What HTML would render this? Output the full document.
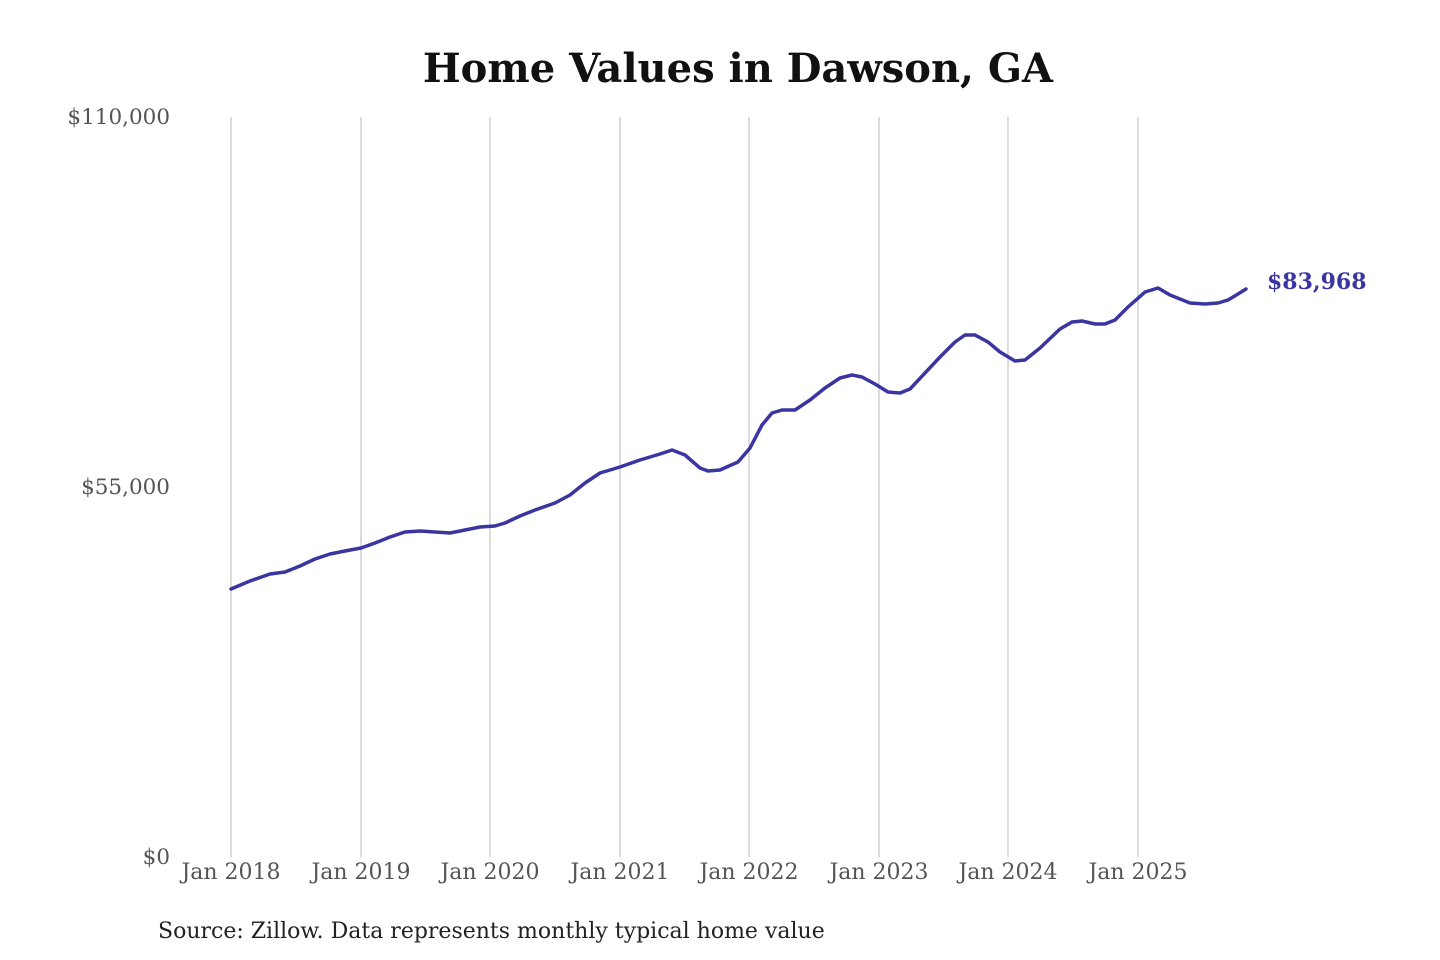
<!DOCTYPE html>
<html><head><meta charset="utf-8"><style>
html,body{margin:0;padding:0;background:#fff;}
svg{display:block;}
text{font-family:"DejaVu Serif","Liberation Serif",serif;}
</style></head><body>
<svg width="1440" height="960" viewBox="0 0 1440 960" xmlns="http://www.w3.org/2000/svg">
<rect width="1440" height="960" fill="#fff"/>
<text x="738" y="82" text-anchor="middle" font-size="40" font-weight="bold" fill="#111">Home Values in Dawson, GA</text>
<g stroke="#c8c8c8" stroke-width="1.3">
<line x1="231" y1="117" x2="231" y2="857"/>
<line x1="361" y1="117" x2="361" y2="857"/>
<line x1="490" y1="117" x2="490" y2="857"/>
<line x1="620" y1="117" x2="620" y2="857"/>
<line x1="749" y1="117" x2="749" y2="857"/>
<line x1="879" y1="117" x2="879" y2="857"/>
<line x1="1008" y1="117" x2="1008" y2="857"/>
<line x1="1138" y1="117" x2="1138" y2="857"/>
</g>
<g font-size="21.5" fill="#555" text-anchor="end">
<text x="170" y="124">$110,000</text>
<text x="170" y="494">$55,000</text>
<text x="170" y="864">$0</text>
</g>
<g font-size="22" fill="#555" text-anchor="middle">
<text x="231" y="879">Jan 2018</text>
<text x="361" y="879">Jan 2019</text>
<text x="490" y="879">Jan 2020</text>
<text x="620" y="879">Jan 2021</text>
<text x="749" y="879">Jan 2022</text>
<text x="879" y="879">Jan 2023</text>
<text x="1008" y="879">Jan 2024</text>
<text x="1138" y="879">Jan 2025</text>
</g>
<polyline fill="none" stroke="#3a35a0" stroke-width="3.5" stroke-linejoin="round" stroke-linecap="round" points="231,589 250,581 270,574 285,572 300,566 315,559 330,554 345,551 361,548 375,543 390,537 405,532 420,531 435,532 450,533 465,530 480,527 495,526 505,523 520,516 535,510 555,503 570,495 585,483 600,473 620,467 640,460 660,454 672,450 685,455 700,468 708,471 720,470 738,462 750,448 762,425 772,413 782,410 795,410 810,400 825,388 840,378 852,375 862,377 875,384 888,392 900,393 910,389 925,373 940,357 955,342 965,335 975,335 988,342 1000,352 1015,361 1025,360 1040,348 1060,329 1072,322 1082,321 1095,324 1105,324 1115,320 1128,307 1145,292 1158,288 1170,295 1180,299 1190,303 1205,304 1218,303 1228,300 1238,294 1246,289"/>
<text x="1267" y="289" font-size="22" font-weight="bold" fill="#3a35a0">$83,968</text>
<text x="158" y="938" font-size="22" fill="#222">Source: Zillow. Data represents monthly typical home value</text>
</svg>
</body></html>
